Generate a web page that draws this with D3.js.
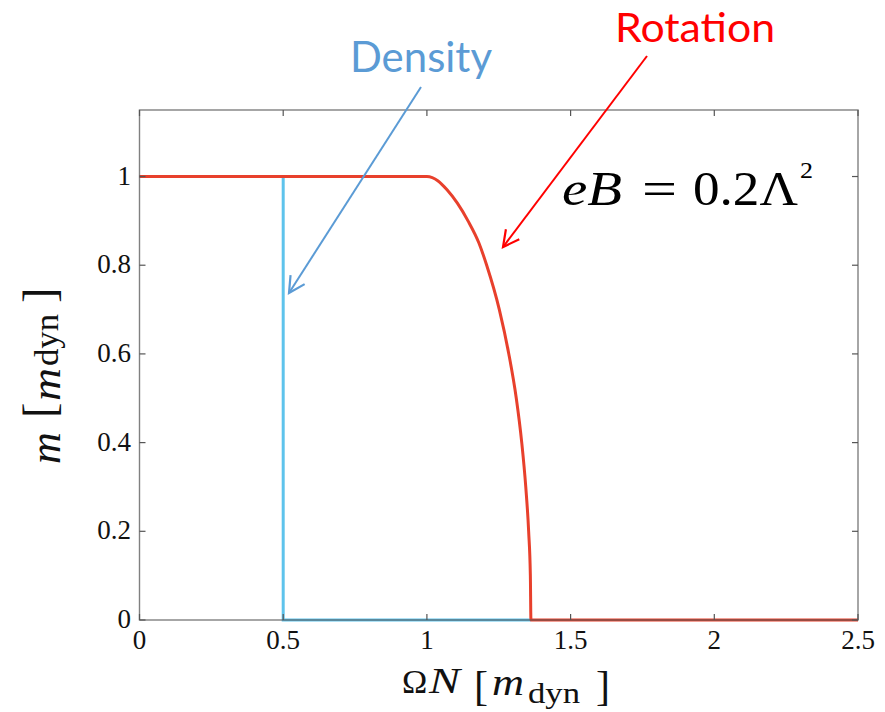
<!DOCTYPE html>
<html>
<head>
<meta charset="utf-8">
<script src="https://cdn.jsdelivr.net/npm/d3@7"></script>
<style>
  html, body { margin: 0; padding: 0; background: #fff; }
  svg { display: block; }
</style>
</head>
<body>
<svg id="chart" width="885" height="712"></svg>
<script>
// ---- data ----
const xTicks = [0, 0.5, 1, 1.5, 2, 2.5];
const xTickLabels = ["0", "0.5", "1", "1.5", "2", "2.5"];
const yTicks = [0, 0.2, 0.4, 0.6, 0.8, 1];
const yTickLabels = ["0", "0.2", "0.4", "0.6", "0.8", "1"];

// Rotation curve (m vs ΩN)
const rotX = [0, 1.0, 1.039, 1.07, 1.106, 1.143, 1.181, 1.208, 1.252, 1.285, 1.311, 1.330, 1.344, 1.354, 1.360, 1.362, 2.5];
const rotY = [1, 1, 0.99, 0.97, 0.94, 0.90, 0.85, 0.80, 0.70, 0.60, 0.50, 0.40, 0.30, 0.20, 0.10, 0, 0];

// Density curve (step at ΩN = 0.5)
const denX = [0, 0.5, 0.5, 1.362];
const denY = [1, 1, 0, 0];

// ---- layout ----
const svg = d3.select("#chart");
const x = d3.scaleLinear().domain([0, 2.5]).range([139.5, 858]);
const y = d3.scaleLinear().domain([0, 1.15]).range([620, 110]);

const frameColor = "#555";
const serif = "'Liberation Serif', 'Times New Roman', serif";

// lines
const line = d3.line().x(d => x(d[0])).y(d => y(d[1]));
svg.append("path")
  .attr("d", line(denX.map((v, i) => [v, denY[i]])))
  .attr("fill", "none").attr("stroke", "#5EC3EC").attr("stroke-width", 3);

svg.append("path")
  .attr("d", d3.line().x(d => x(d[0])).y(d => y(d[1])).curve(d3.curveMonotoneX)(rotX.map((v, i) => [v, rotY[i]])))
  .attr("fill", "none").attr("stroke", "#E8402C").attr("stroke-width", 3);

// frame (on top of lines)
svg.append("rect")
  .attr("x", x(0)).attr("y", y(1.15))
  .attr("width", x(2.5) - x(0)).attr("height", y(0) - y(1.15))
  .attr("fill", "none").attr("stroke", frameColor).attr("stroke-opacity", 0.75).attr("stroke-width", 1.4);

// inward ticks on all four sides
const tl = 6;
const gt = svg.append("g").attr("stroke", frameColor).attr("stroke-width", 1.2);
xTicks.forEach(t => {
  gt.append("line").attr("x1", x(t)).attr("x2", x(t)).attr("y1", y(0)).attr("y2", y(0) - tl);
  gt.append("line").attr("x1", x(t)).attr("x2", x(t)).attr("y1", y(1.15)).attr("y2", y(1.15) + tl);
});
yTicks.forEach(t => {
  gt.append("line").attr("x1", x(0)).attr("x2", x(0) + tl).attr("y1", y(t)).attr("y2", y(t));
  gt.append("line").attr("x1", x(2.5)).attr("x2", x(2.5) - tl).attr("y1", y(t)).attr("y2", y(t));
});

// tick labels
svg.append("g").selectAll("text").data(xTicks).join("text")
  .attr("x", d => x(d)).attr("y", 649)
  .attr("text-anchor", "middle")
  .attr("font-family", serif).attr("font-size", 27).attr("fill", "#111")
  .text((d, i) => xTickLabels[i]);

svg.append("g").selectAll("text").data(yTicks).join("text")
  .attr("x", 131).attr("y", d => y(d) + 8)
  .attr("text-anchor", "end")
  .attr("font-family", serif).attr("font-size", 27).attr("fill", "#111")
  .text((d, i) => yTickLabels[i]);

// helper for math pieces
function piece(g, str, px, py, size, italic, width) {
  const t = g.append("text").attr("x", px).attr("y", py)
    .attr("font-family", serif).attr("font-size", size).attr("fill", "#111")
    .attr("font-style", italic ? "italic" : "normal")
    .text(str);
  if (width) t.attr("textLength", width).attr("lengthAdjust", "spacingAndGlyphs");
  return t;
}

// x-axis title: ΩN [ m_dyn ]
const gx = svg.append("g");
piece(gx, "Ω", 402, 693, 34);
piece(gx, "N", 429, 693, 36, true, 31);
piece(gx, "[", 474, 700, 42);
piece(gx, "m", 492, 695, 38, true, 32);
piece(gx, "dyn", 528, 703, 30, false, 52);
piece(gx, "]", 596, 700, 42);

// y-axis title: m [ m_dyn ]  (rotated)
const gy = svg.append("g").attr("transform", "rotate(-90)");
piece(gy, "m", -464, 60, 44, true);
piece(gy, "[", -418, 55, 46);
piece(gy, "m", -401, 60, 42, true, 33);
piece(gy, "dyn", -366, 58, 34, false, 52);
piece(gy, "]", -303, 55, 46);

// equation annotation eB = 0.2Λ²
const ge = svg.append("g");
piece(ge, "eB", 562, 205, 48, true, 60).attr("fill", "#000");
piece(ge, "=", 642, 205, 48, false, 35).attr("fill", "#000");
piece(ge, "0.2Λ", 693, 205, 48, false, 105).attr("fill", "#000");
piece(ge, "2", 800, 178, 24, false, 13).attr("fill", "#000");

// labels + arrows
function arrow(x1, y1, x2, y2, color) {
  svg.append("line").attr("x1", x1).attr("y1", y1).attr("x2", x2).attr("y2", y2)
    .attr("stroke", color).attr("stroke-width", 2);
  const a = Math.atan2(y2 - y1, x2 - x1);
  const L = 18, s = Math.PI / 6.5;
  const p1 = [x2 - L * Math.cos(a - s), y2 - L * Math.sin(a - s)];
  const p2 = [x2 - L * Math.cos(a + s), y2 - L * Math.sin(a + s)];
  svg.append("path")
    .attr("d", `M${p1[0]},${p1[1]}L${x2},${y2}L${p2[0]},${p2[1]}`)
    .attr("fill", "none").attr("stroke", color).attr("stroke-width", 2.2)
    .attr("stroke-linejoin", "miter");
}

const sans = "Lato, 'Open Sans', 'Liberation Sans', sans-serif";
svg.append("text").attr("x", 350).attr("y", 72)
  .attr("font-family", sans).attr("font-size", 43).attr("fill", "#5B9BD5")
  .attr("textLength", 142).attr("lengthAdjust", "spacingAndGlyphs")
  .text("Density");
arrow(421, 87, 289, 293, "#5B9BD5");

svg.append("text").attr("x", 615).attr("y", 42)
  .attr("font-family", sans).attr("font-size", 40).attr("fill", "#FF0000")
  .attr("textLength", 160).attr("lengthAdjust", "spacingAndGlyphs")
  .text("Rotation");
arrow(647, 56, 503, 247, "#FF0000");
</script>
</body>
</html>
